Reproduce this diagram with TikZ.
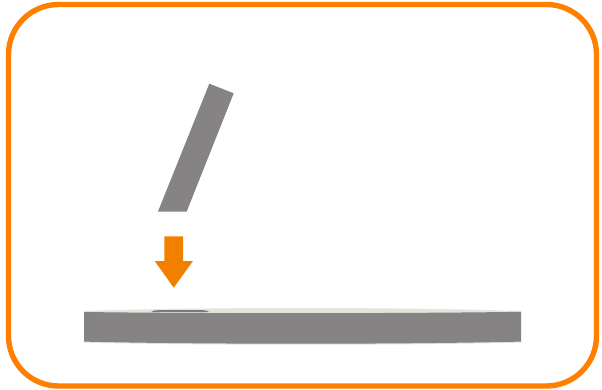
\documentclass[tikz,border=0pt]{standalone}
\definecolor{frameor}{HTML}{FF8000}
\definecolor{arrowor}{HTML}{F18000}
\definecolor{slabgrey}{HTML}{858384}
\definecolor{slablight}{HTML}{E4E3DC}
\definecolor{slotgrey}{HTML}{7A7A78}
\tikzset{frame/.style={draw=frameor,line width=5.4pt,rounded corners=50pt},
 solidgrey/.style={fill=slabgrey,draw=none},
 solidlight/.style={fill=slablight,draw=none},
 pusharrow/.style={fill=arrowor,draw=none}}
\begin{document}
\begin{tikzpicture}[x=1pt,y=-1pt]
\useasboundingbox (0,0) rectangle (602,389);
\fill[white] (0,0) rectangle (602,389);
\draw[frame] (8.5,4.5) rectangle (596.5,386);
% slab
\fill[solidlight] (84,311) .. controls (200,307) and (400,307) .. (521,311) -- (521,316) -- (84,316) -- cycle;
\fill[solidlight] (84,341) -- (521,341) -- (521,342.6) .. controls (400,345.4) and (200,345.4) .. (84,342.6) -- cycle;
\fill[solidgrey] (84,312) .. controls (200,313.6) and (400,313.6) .. (521,311.8) -- (521,341.6) .. controls (400,344.4) and (200,344.4) .. (84,341.6) -- cycle;
\fill[slotgrey] (151,312) .. controls (153,310.4) and (155,310.2) .. (158,310.2) -- (203,310.2) .. controls (206,310.2) and (207,310.6) .. (209,312) -- cycle;
% blade
\fill[solidgrey] (209.3,83.7) -- (233.7,93.3) -- (186.7,211.5) -- (158,211.5) -- cycle;
% arrow
\fill[pusharrow] (164.3,236.3) -- (183,236.3) -- (183,261) -- (193,261) -- (173.7,287.7) -- (154.7,261) -- (164.3,261) -- cycle;
\end{tikzpicture}
\end{document}
